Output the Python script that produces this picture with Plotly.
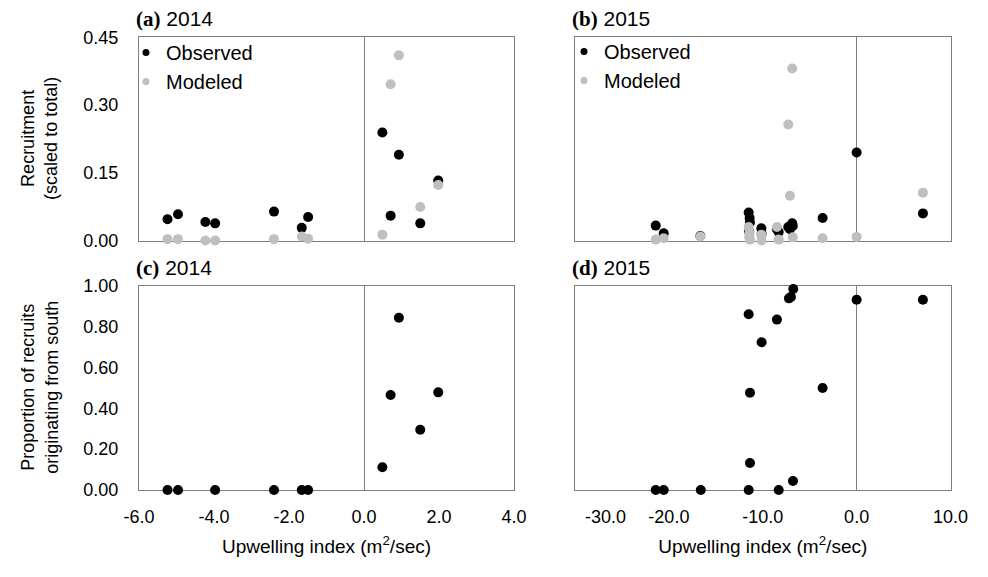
import plotly.graph_objects as go

# ---------------- data ----------------
# 2014 sites: upwelling index (m2/sec)
x_2014 = [-5.24, -4.96, -4.23, -3.97, -2.40, -1.66, -1.49, 0.49, 0.71, 0.93, 1.50, 1.98]
obs_2014 = [0.047, 0.058, 0.041, 0.038, 0.064, 0.028, 0.052, 0.239, 0.055, 0.190, 0.038, 0.133]
mod_2014 = [0.003, 0.003, 0.000, 0.000, 0.003, 0.009, 0.004, 0.013, 0.346, 0.410, 0.074, 0.123]

x_prop_2014 = [-5.24, -4.96, -3.97, -2.40, -1.66, -1.49, 0.49, 0.71, 0.93, 1.50, 1.98]
prop_2014 = [0.0, 0.0, 0.0, 0.0, 0.0, 0.0, 0.111, 0.465, 0.843, 0.295, 0.478]

# 2015 sites
x_2015 = [-21.4, -20.55, -16.65, -11.5, -11.4, -11.36, -11.45, -10.15, -10.12, -8.49, -8.3,
          -7.28, -6.86, -7.1, -6.8, -3.62, 0.0, 7.06]
obs_2015 = [0.033, 0.016, 0.010, 0.062, 0.050, 0.040, 0.020, 0.027, 0.015, 0.025, 0.019,
            0.030, 0.038, 0.025, 0.032, 0.050, 0.195, 0.060]
mod_2015 = [0.002, 0.005, 0.009, 0.030, 0.017, 0.002, 0.008, 0.013, 0.000, 0.030, 0.002,
            0.257, 0.381, 0.099, 0.007, 0.005, 0.008, 0.106]

x_prop_2015 = [-21.4, -20.55, -16.6, -11.5, -11.5, -11.36, -11.36, -10.12, -8.49, -8.3,
               -7.21, -7.0, -6.75, -6.78, -3.62, 0.0, 7.06]
prop_2015 = [0.0, 0.0, 0.0, 0.0, 0.86, 0.476, 0.132, 0.723, 0.834, 0.0,
             0.938, 0.945, 0.984, 0.044, 0.499, 0.931, 0.931]

# tick labels
recruit_ticks = [0.0, 0.15, 0.30, 0.45]
recruit_ticktext = ["0.00", "0.15", "0.30", "0.45"]
prop_ticks = [0.0, 0.2, 0.4, 0.6, 0.8, 1.0]
prop_ticktext = ["0.00", "0.20", "0.40", "0.60", "0.80", "1.00"]
x14_ticks = [-6, -4, -2, 0, 2, 4]
x14_ticktext = ["-6.0", "-4.0", "-2.0", "0.0", "2.0", "4.0"]
x15_ticks = [-30, -20, -10, 0, 10]
x15_ticktext = ["-30.0", "-20.0", "-10.0", "0.0", "10.0"]

series_names = ["Observed", "Modeled"]
panel_titles = [("(a)", "2014"), ("(b)", "2015"), ("(c)", "2014"), ("(d)", "2015")]
y_titles = ["Recruitment<br>(scaled to total)", "Proportion of recruits<br>originating from south"]
x_title = "Upwelling index (m<sup>2</sup>/sec)"

# ---------------- styling ----------------
PAGE_OFF = 8            # default body margin of the html page
W, H = 988 - PAGE_OFF, 577 - PAGE_OFF
BLACK = "#000000"
GREY = "#BFBFBF"
AXC = "#7F7F7F"
FONT = "Liberation Sans, Arial, sans-serif"
SERIF = "Liberation Serif, Times New Roman, serif"
TICKFONT = dict(family=FONT, size=18, color=BLACK)


def fx(p):
    return (p - PAGE_OFF) / W


def fy(p):
    return 1 - (p - PAGE_OFF) / H


left_dom = [fx(139), fx(514)]
right_dom = [fx(575), fx(950.5)]
top_dom = [fy(240.5), fy(37.3)]
bot_dom = [fy(490), fy(285.7)]

fig = go.Figure()

mk = dict(size=10)


def add_pts(x, y, color, xa, ya):
    fig.add_trace(go.Scatter(x=x, y=y, mode="markers", marker=dict(color=color, **mk),
                             xaxis=xa, yaxis=ya, showlegend=False, cliponaxis=False,
                             hoverinfo="x+y"))


add_pts(x_2014, obs_2014, BLACK, "x", "y")
add_pts(x_2014, mod_2014, GREY, "x", "y")
add_pts(x_2015, obs_2015, BLACK, "x2", "y2")
add_pts(x_2015, mod_2015, GREY, "x2", "y2")
add_pts(x_prop_2014, prop_2014, BLACK, "x3", "y3")
add_pts(x_prop_2015, prop_2015, BLACK, "x4", "y4")

# legend entries (small markers)
for lg, xa, ya in (("legend", "x", "y"), ("legend2", "x2", "y2")):
    for name, col in zip(series_names, (BLACK, GREY)):
        fig.add_trace(go.Scatter(x=[None], y=[None], mode="markers", name=name,
                                 marker=dict(color=col, size=7), xaxis=xa, yaxis=ya,
                                 legend=lg, showlegend=True))


def xax(dom, anchor, rng, ticks, text, show, title=None):
    d = dict(domain=dom, anchor=anchor, range=rng, showgrid=False, showline=True,
             linecolor=AXC, linewidth=1, mirror=True, zeroline=True, zerolinecolor=AXC,
             zerolinewidth=1, ticks="", tickmode="array", tickvals=ticks, ticktext=text,
             showticklabels=show, tickfont=TICKFONT,
             layer="below traces", fixedrange=True, ticklabelstandoff=10, automargin=False)
    if title:
        d["title"] = dict(text=title, font=dict(family=FONT, size=19, color=BLACK), standoff=14)
    return d


def yax(dom, anchor, rng, ticks, text, show):
    return dict(domain=dom, anchor=anchor, range=rng, showgrid=False, showline=True,
                linecolor=AXC, linewidth=1, mirror=True, zeroline=False, ticks="",
                tickmode="array", tickvals=ticks, ticktext=text, showticklabels=show,
                tickfont=TICKFONT, layer="below traces",
                fixedrange=True, ticklabelstandoff=16, automargin=False)


legend_font = dict(family=FONT, size=20, color=BLACK)

# the leftmost label of panel (d) is nudged right in the original, so it is drawn separately
fig.update_layout(
    width=W, height=H, margin=dict(l=0, r=0, t=0, b=0, autoexpand=False),
    paper_bgcolor="white", plot_bgcolor="white",
    xaxis=xax(left_dom, "y", [-6, 4], x14_ticks, x14_ticktext, False),
    yaxis=yax(top_dom, "x", [0, 0.45], recruit_ticks, recruit_ticktext, True),
    xaxis2=xax(right_dom, "y2", [-30, 10], x15_ticks, x15_ticktext, False),
    yaxis2=yax(top_dom, "x2", [0, 0.45], recruit_ticks, recruit_ticktext, False),
    xaxis3=xax(left_dom, "y3", [-6, 4], x14_ticks, x14_ticktext, True, x_title),
    yaxis3=yax(bot_dom, "x3", [0, 1], prop_ticks, prop_ticktext, True),
    xaxis4=xax(right_dom, "y4", [-30, 10], x15_ticks[1:], x15_ticktext[1:], True, x_title),
    yaxis4=yax(bot_dom, "x4", [0, 1], prop_ticks, prop_ticktext, False),
    legend=dict(x=fx(126), y=fy(33), xanchor="left", yanchor="top", font=legend_font,
                bgcolor="rgba(0,0,0,0)", itemwidth=30, tracegroupgap=0, borderwidth=0),
    legend2=dict(x=fx(564), y=fy(32), xanchor="left", yanchor="top", font=legend_font,
                 bgcolor="rgba(0,0,0,0)", itemwidth=30, tracegroupgap=0, borderwidth=0),
    showlegend=True,
)

annotations = []
title_pos = [(134, 19), (570, 19), (134, 268), (570, 268)]
for (lab, yr), (px, py) in zip(panel_titles, title_pos):
    annotations.append(dict(
        text=f'<span style="font-family:{SERIF}"><b>{lab}</b></span> {yr}',
        x=fx(px), y=fy(py), xref="paper", yref="paper", xanchor="left", yanchor="middle",
        showarrow=False, font=dict(family=FONT, size=21, color=BLACK)))

for txt, cy in zip(y_titles, [(37.3 + 240.5) / 2, (285.7 + 490) / 2]):
    annotations.append(dict(
        text=txt, x=fx(40), y=fy(cy), xref="paper", yref="paper", xanchor="center",
        yanchor="middle", textangle=-90, showarrow=False,
        font=dict(family=FONT, size=18, color=BLACK)))

annotations.append(dict(
    text=x15_ticktext[0], x=x15_ticks[0], xref="x4", y=fy(517), yref="paper",
    xanchor="left", yanchor="middle", xshift=8, showarrow=False, font=TICKFONT))

fig.update_layout(annotations=annotations)

fig.write_html("out.html")
